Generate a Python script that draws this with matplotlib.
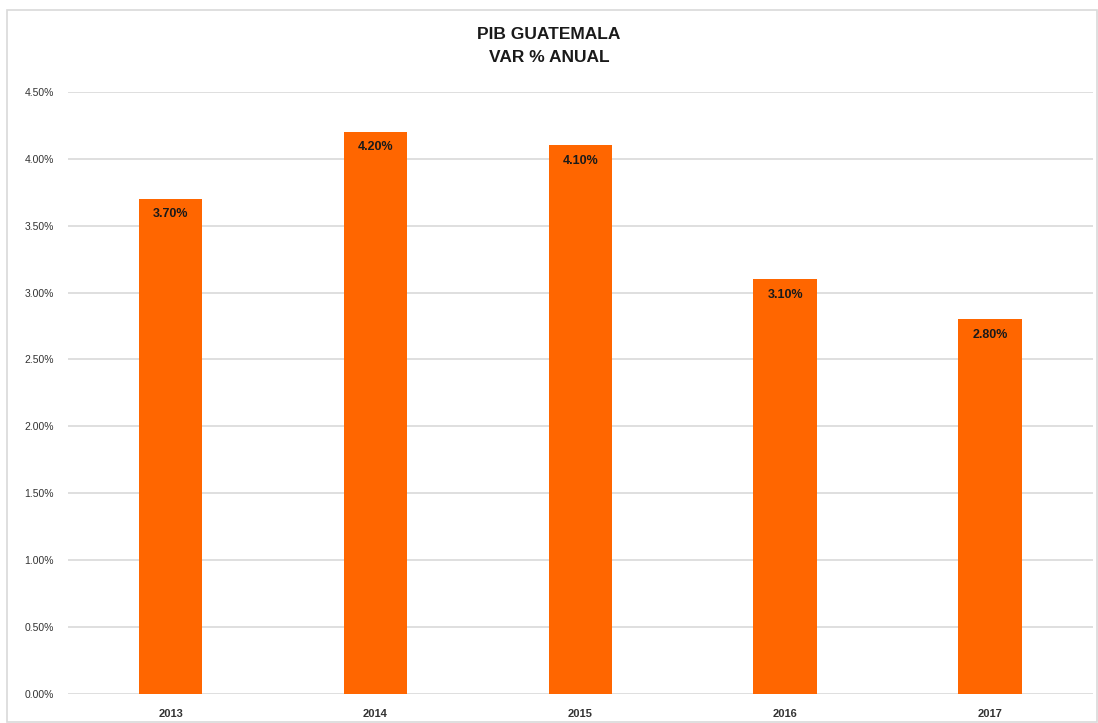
import matplotlib.pyplot as plt
from matplotlib.patches import Rectangle

years = ['2013', '2014', '2015', '2016', '2017']
var_pct = [3.70, 4.20, 4.10, 3.10, 2.80]
yticks = [0.0, 0.5, 1.0, 1.5, 2.0, 2.5, 3.0, 3.5, 4.0, 4.5]

plt.rcParams['font.family'] = ['Liberation Sans', 'DejaVu Sans']

fig = plt.figure(figsize=(10.98, 7.23), dpi=100)
ax = fig.add_axes([0.062, 0.040, 0.933, 0.833])

# borde del grafico
fig.patches.append(Rectangle((7/1098, 1/723), 1090/1098, 712/723, transform=fig.transFigure,
                             fill=False, edgecolor='#d9d9d9', linewidth=1.2))

x = range(len(years))
bars = ax.bar(x, var_pct, width=0.31, color='#ff6600', zorder=3)
for xi, v in zip(x, var_pct):
    ax.text(xi, v - 0.07, f'{v:.2f}%', ha='center', va='top', fontsize=9,
            fontweight='bold', color='#1a1a1a', zorder=4)

ax.set_xlim(-0.5, len(years) - 0.5)
ax.set_ylim(0, 4.5)
ax.set_yticks(yticks)
ax.set_yticklabels([f'{t:.2f}%' for t in yticks], fontsize=7.5, color='#333333')
ax.set_xticks(list(x))
ax.set_xticklabels(years, fontsize=8, fontweight='bold', color='#333333')
ax.tick_params(length=0, pad=10)
ax.tick_params(axis='x', pad=11)
ax.grid(axis='y', color='#d9d9d9', linewidth=1.2, zorder=0)
for s in ax.spines.values():
    s.set_visible(False)

fig.text(0.5, 0.936, 'PIB GUATEMALA\nVAR % ANUAL', ha='center', va='center',
         fontsize=12.5, fontweight='bold', color='#1a1a1a', linespacing=1.7)

fig.savefig('out.png', dpi=100)
